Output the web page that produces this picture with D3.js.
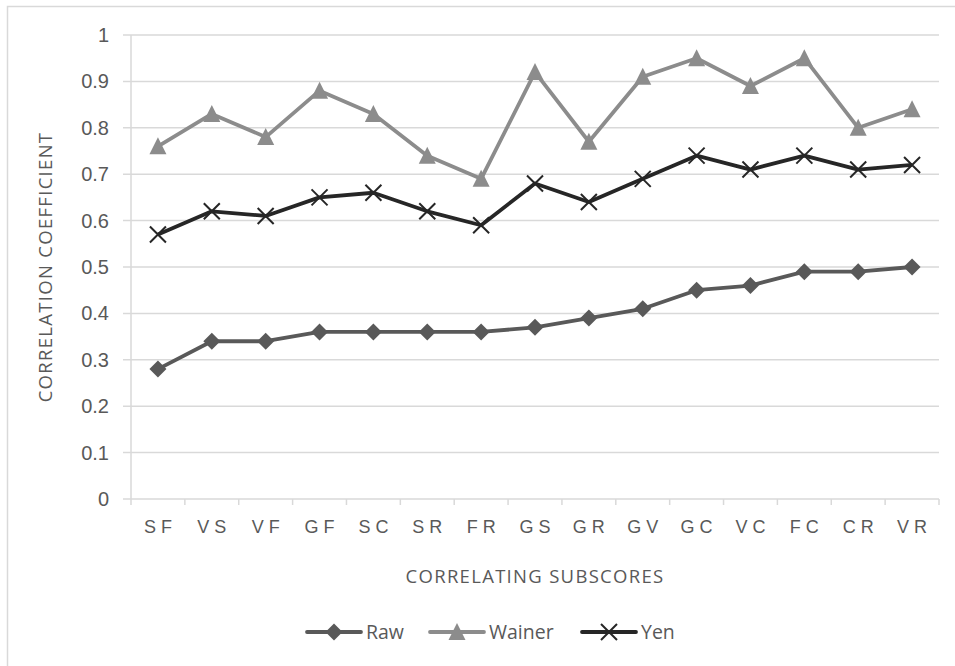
<!DOCTYPE html>
<html><head><meta charset="utf-8">
<script src="https://cdn.jsdelivr.net/npm/d3@7"></script>
<style>
html,body{margin:0;padding:0;background:#fff;}
svg{display:block;font-family:"Open Sans","Noto Sans",sans-serif;}
</style></head>
<body>
<svg id="chart" width="955" height="666"></svg>
<script>
const categories = ["SF","VS","VF","GF","SC","SR","FR","GS","GR","GV","GC","VC","FC","CR","VR"];
const rawValues    = [0.28,0.34,0.34,0.36,0.36,0.36,0.36,0.37,0.39,0.41,0.45,0.46,0.49,0.49,0.50];
const wainerValues = [0.76,0.83,0.78,0.88,0.83,0.74,0.69,0.92,0.77,0.91,0.95,0.89,0.95,0.80,0.84];
const yenValues    = [0.57,0.62,0.61,0.65,0.66,0.62,0.59,0.68,0.64,0.69,0.74,0.71,0.74,0.71,0.72];
const yTicks = [0,0.1,0.2,0.3,0.4,0.5,0.6,0.7,0.8,0.9,1];

const series = [
  {name:"Raw", values: rawValues, color:"#595959", marker:"diamond"},
  {name:"Wainer", values: wainerValues, color:"#8c8c8c", marker:"triangle"},
  {name:"Yen", values: yenValues, color:"#262626", marker:"x"}
];

const svg = d3.select("#chart");
const pLeft = 131, pRight = 939, pTop = 35, pBottom = 499;
const textColor = "#595959";

// frame
svg.append("rect").attr("x",7.5).attr("y",6.5).attr("width",1000).attr("height",700)
  .attr("fill","none").attr("stroke","#d9d9d9").attr("stroke-width",1.5);

const x = d3.scaleBand().domain(categories).range([pLeft,pRight]).padding(0);
const y = d3.scaleLinear().domain([0,1]).range([pBottom,pTop]);

// gridlines
svg.append("g").selectAll("line").data(yTicks.filter(d=>d>0)).join("line")
  .attr("x1",pLeft-8).attr("x2",pRight).attr("y1",d=>y(d)).attr("y2",d=>y(d))
  .attr("stroke","#d9d9d9").attr("stroke-width",1.5);

// y axis line
svg.append("line").attr("x1",pLeft).attr("x2",pLeft).attr("y1",pTop).attr("y2",pBottom)
  .attr("stroke","#d9d9d9").attr("stroke-width",1.5);
// x axis
const xAxis = d3.axisBottom(x).tickSize(0);
const gx = svg.append("g").attr("transform",`translate(0,${pBottom})`).call(xAxis);
gx.select(".domain").remove();
gx.selectAll("text").attr("fill",textColor).attr("font-size",18).attr("dy",0).attr("y",34)
  .attr("dx",2.5).style("letter-spacing","5px");
svg.append("line").attr("x1",pLeft-8).attr("x2",pRight).attr("y1",pBottom).attr("y2",pBottom)
  .attr("stroke","#d9d9d9").attr("stroke-width",1.5);
// x tick marks at band boundaries
const boundaries = categories.map(c=>x(c)).concat([pRight]);
svg.append("g").selectAll("line").data(boundaries).join("line")
  .attr("x1",d=>d).attr("x2",d=>d).attr("y1",pBottom).attr("y2",pBottom+6)
  .attr("stroke","#d9d9d9").attr("stroke-width",1.5);

// y labels
const yAxis = d3.axisLeft(y).tickValues(yTicks).tickSize(0).tickFormat(d=>d3.format("~g")(d));
const gy = svg.append("g").attr("transform",`translate(${pLeft-22},0)`).call(yAxis);
gy.select(".domain").remove();
gy.selectAll("text").attr("fill",textColor).attr("font-size",20).attr("x",0);

// axis titles
svg.append("text").attr("transform",`translate(52,${(pTop+pBottom)/2}) rotate(-90)`)
  .attr("text-anchor","middle").attr("fill",textColor).attr("font-size",18.5)
  .style("letter-spacing","1.3px")
  .text("CORRELATION COEFFICIENT");
svg.append("text").attr("x",(pLeft+pRight)/2).attr("y",583)
  .attr("text-anchor","middle").attr("fill",textColor).attr("font-size",18.5)
  .style("letter-spacing","1.3px")
  .text("CORRELATING SUBSCORES");

function drawMarker(g, type, color){
  if(type==="diamond"){
    g.append("path").attr("d","M0,-8.5L8.5,0L0,8.5L-8.5,0Z").attr("fill",color);
  } else if(type==="triangle"){
    g.append("path").attr("d","M0,-9L8.5,8L-8.5,8Z").attr("fill",color);
  } else {
    g.append("path").attr("d","M-8,-8L8,8M-8,8L8,-8").attr("stroke",color).attr("stroke-width",2).attr("fill","none");
  }
}

const line = d3.line().x((d,i)=>x(categories[i])+x.bandwidth()/2).y(d=>y(d));
series.forEach(s=>{
  svg.append("path").datum(s.values).attr("d",line).attr("fill","none")
    .attr("stroke",s.color).attr("stroke-width",3.8).attr("stroke-linejoin","round");
  s.values.forEach((v,i)=>{
    const g = svg.append("g").attr("transform",`translate(${x(categories[i])+x.bandwidth()/2},${y(v)})`);
    drawMarker(g, s.marker, s.color);
  });
});

// legend
const legendPos = [307, 430, 582];
series.forEach((s,i)=>{
  const lx = legendPos[i], ly = 632;
  svg.append("line").attr("x1",lx).attr("x2",lx+54).attr("y1",ly).attr("y2",ly)
    .attr("stroke",s.color).attr("stroke-width",3.8).attr("stroke-linecap","round");
  const g = svg.append("g").attr("transform",`translate(${lx+27},${ly})`);
  drawMarker(g, s.marker, s.color);
  svg.append("text").attr("x",lx+59).attr("y",ly).attr("dy","0.35em")
    .attr("fill",textColor).attr("font-size",19.5).text(s.name);
});
</script>
</body></html>
